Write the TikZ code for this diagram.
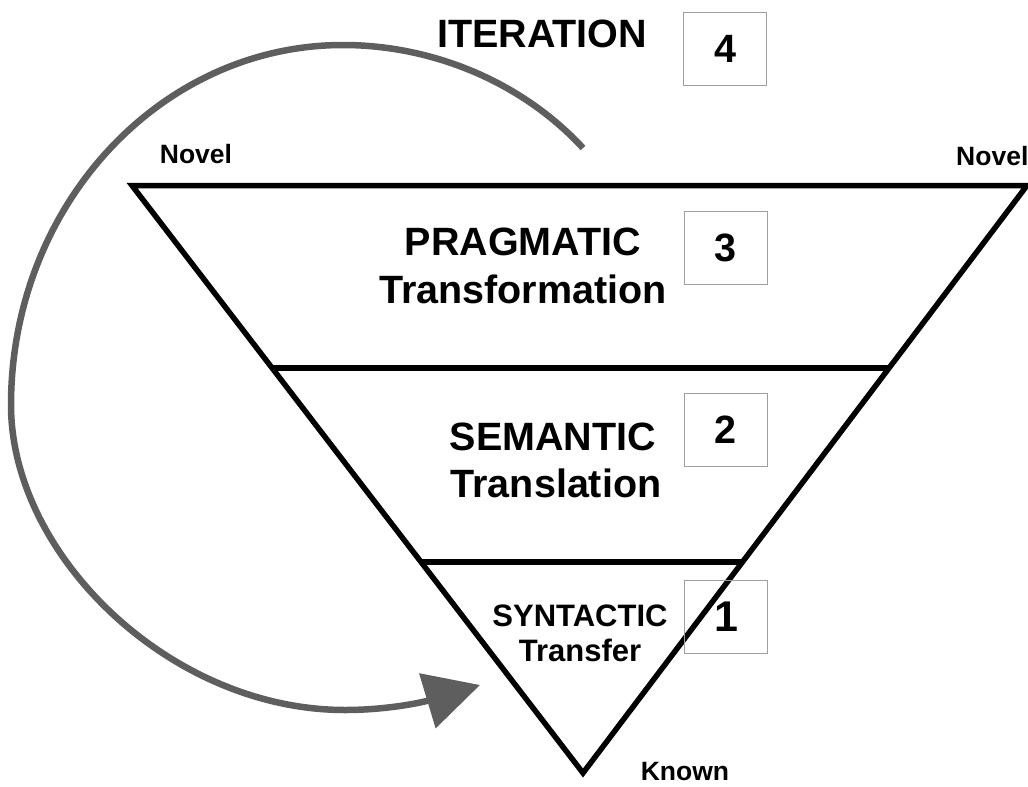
\documentclass[tikz,border=0pt]{standalone}
\usepackage{fontspec}
\setmainfont{Liberation Sans}
\usetikzlibrary{arrows.meta,calc}
\definecolor{arcgray}{HTML}{5E5E5E}
\begin{document}
\begin{tikzpicture}[x=1pt,y=-1pt,
  tri/.style={line width=5.5pt, line join=miter, black},
  lbl/.style={font=\bfseries\fontsize{39.5}{44}\selectfont, anchor=base, inner sep=0pt},
  midlbl/.style={font=\bfseries\fontsize{31}{36}\selectfont, anchor=base, inner sep=0pt},
  smalllbl/.style={font=\bfseries\fontsize{26.5}{30}\selectfont, anchor=base, inner sep=0pt},
  numbox/.style={draw=gray!75, line width=0.8pt, minimum width=83pt, minimum height=73pt, inner sep=0pt, font=\bfseries\fontsize{39.5}{44}\selectfont},
  arcline/.style={draw=arcgray, line width=6.5pt, -{Triangle[length=55pt,width=56pt]}}
]
\useasboundingbox (0,0) rectangle (1028,787);

% triangle
\coordinate (TL) at (132,185.5);
\coordinate (TR) at (1027,185.5);
\coordinate (B) at (583,773);
\draw[tri] (TL) -- (TR) -- (B) -- cycle;
\coordinate (L1) at ($(TL)!0.311!(B)$);
\coordinate (R1) at ($(TR)!0.311!(B)$);
\coordinate (L2) at ($(TL)!0.641!(B)$);
\coordinate (R2) at ($(TR)!0.641!(B)$);
\draw[tri] (L1) -- (R1);
\draw[tri] (L2) -- (R2);

% labels
\node[lbl] (iter) at (542,47) {ITERATION};
\node[lbl] (prag) at (523,255) {PRAGMATIC};
\node[lbl] (transf) at (523,303) {Transformation};
\node[lbl] (sem) at (553,450) {SEMANTIC};
\node[lbl] (transl) at (556,497) {Translation};
\node[midlbl] (syn) at (580,626) {SYNTACTIC};
\node[midlbl] (trfr) at (580,661) {Transfer};
\node[smalllbl] (novl) at (196,163) {Novel};
\node[smalllbl, anchor=base west] (novr) at (956,165) {Novel};
\node[smalllbl] (known) at (685,780) {Known};

% number boxes
\node[numbox] (b4) at (725,48.5) {4};
\node[numbox] (b3) at (725.5,247.5) {3};
\node[numbox] (b2) at (725.5,430) {2};
\node[numbox, font=\bfseries\fontsize{43}{48}\selectfont] (b1) at (726,616.5) {1};

% iteration arc
\coordinate (arcstart) at (583,148);
\coordinate (arctop) at (343,45);
\coordinate (arcleft) at (11,405);
\coordinate (arcbottom) at (345,710);
\coordinate (arctip) at (480,685);
\draw[arcline] (arcstart) .. controls (520,80) and (430,45) .. (arctop)
  .. controls (160,45) and (11,206) .. (arcleft)
  .. controls (11,555) and (170,710) .. (arcbottom)
  .. controls (385,710) and (420,703) .. (arctip);
\end{tikzpicture}
\end{document}
